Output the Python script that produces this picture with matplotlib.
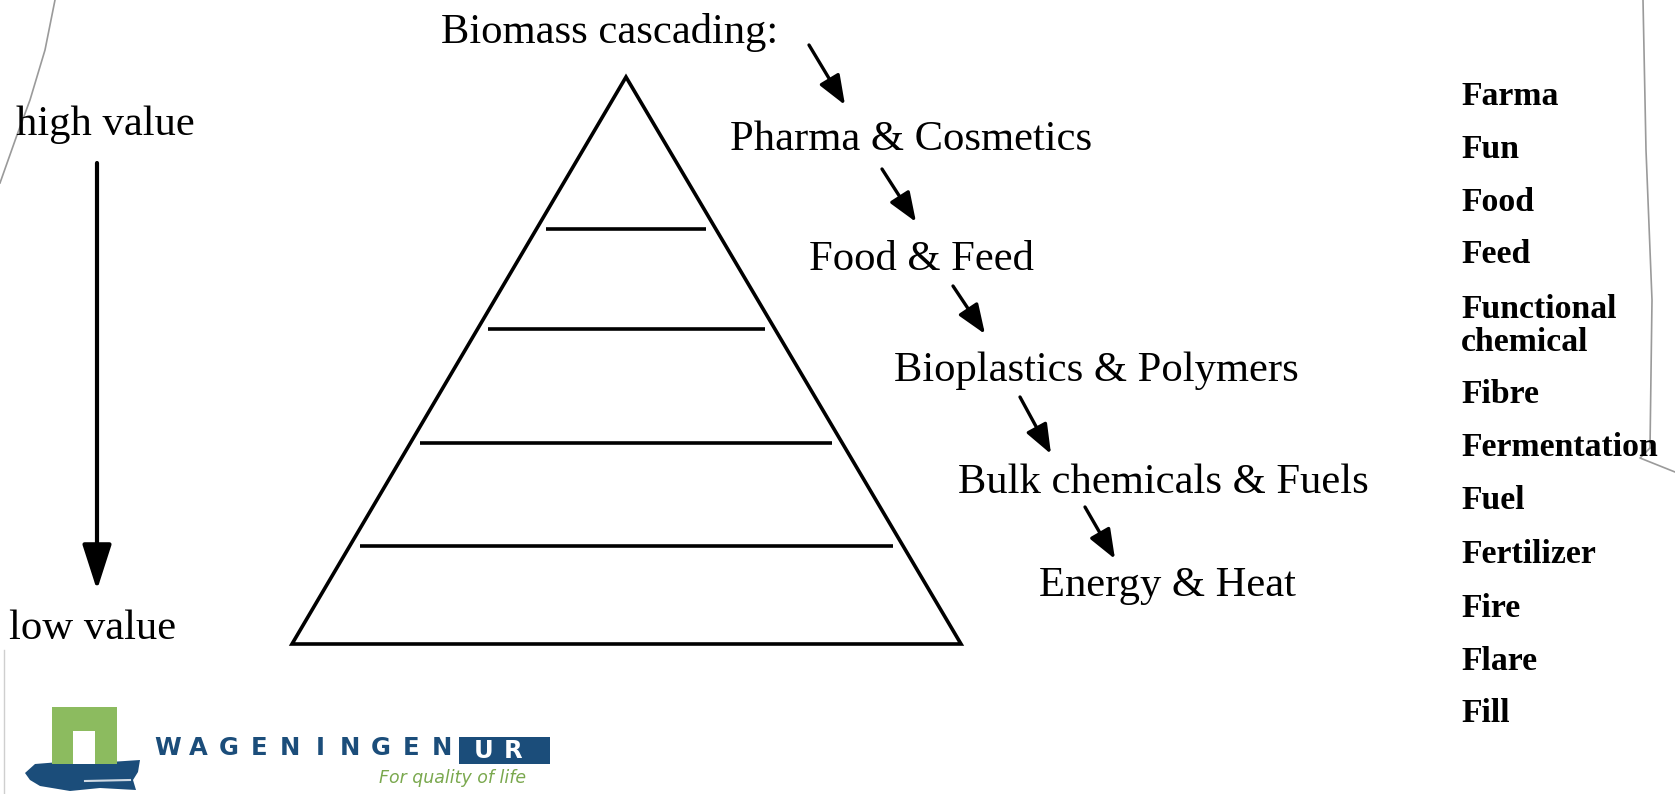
import matplotlib
matplotlib.use("Agg")
import matplotlib.pyplot as plt
from matplotlib.patches import Polygon, Rectangle, FancyArrowPatch

# Cascade steps (top = highest value)
cascade_labels = ["Pharma & Cosmetics", "Food & Feed", "Bioplastics & Polymers",
                  "Bulk chemicals & Fuels", "Energy & Heat"]
cascade_x = [730, 809, 894, 958, 1039]
cascade_base = [150, 270, 381, 493, 596]

# "F" list on the right
f_words = ["Farma", "Fun", "Food", "Feed", "Functional\nchemical", "Fibre",
           "Fermentation", "Fuel", "Fertilizer", "Fire", "Flare", "Fill"]
f_base = [105, 158, 211, 263, 318, 403, 456, 509, 563, 617, 670, 722]

# pyramid tiers (pixel rows of the dividing lines)
tier_y = [229, 329, 443, 546]
apex = (626, 77)
base_l = (292, 644)
base_r = (961, 644)

W, H = 1675, 794
fig = plt.figure(figsize=(W / 100, H / 100), dpi=100)
ax = fig.add_axes([0, 0, 1, 1])
ax.set_xlim(0, W)
ax.set_ylim(H, 0)
ax.axis("off")

serif = "Liberation Serif"

# pyramid
ax.add_patch(Polygon([apex, base_l, base_r], closed=True, fill=False,
                     edgecolor="black", lw=2.6, joinstyle="miter"))
for y in tier_y:
    t = (y - apex[1]) / (base_l[1] - apex[1])
    xl = apex[0] + t * (base_l[0] - apex[0]) + 10
    xr = apex[0] + t * (base_r[0] - apex[0]) - 10
    ax.plot([xl, xr], [y, y], color="black", lw=2.6, solid_capstyle="butt")

# cascade text and arrows
ax.text(441, 43, "Biomass cascading:", fontsize=30.7, family=serif, va="baseline")
for lab, x, y in zip(cascade_labels, cascade_x, cascade_base):
    ax.text(x, y, lab, fontsize=30.7, family=serif, va="baseline")

arrows = [((809, 45), (845, 105)), ((882, 169), (916, 222)),
          ((953, 286), (985, 334)), ((1020, 397), (1051, 454)),
          ((1085, 507), (1115, 559))]
for (x0, y0), (x1, y1) in arrows:
    ax.add_patch(FancyArrowPatch((x0, y0), (x1, y1),
                                 arrowstyle="-|>,head_length=0.9,head_width=0.35",
                                 mutation_scale=20, color="black", lw=2.4,
                                 shrinkA=0, shrinkB=0))

# value axis on the left
ax.text(16, 135, "high value", fontsize=30.7, family=serif, va="baseline")
ax.text(9, 639, "low value", fontsize=30.7, family=serif, va="baseline")
ax.add_patch(FancyArrowPatch((97, 163), (97, 590),
                             arrowstyle="-|>,head_length=1.4,head_width=0.45",
                             mutation_scale=20, color="black", lw=3,
                             shrinkA=0, shrinkB=0))

# F list
for word, y in zip(f_words, f_base):
    for i, line in enumerate(word.split("\n")):
        ax.text(1461, y + i * 33, line, fontsize=24.3, family=serif,
                weight="bold", va="baseline")

# slide border remnants
ax.plot([55, 45, 30, 17, 0], [0, 50, 100, 135, 183], color="#9a9a9a", lw=1.2)
ax.plot([1643, 1646, 1652, 1650], [0, 150, 300, 448], color="#9a9a9a", lw=1.2)
ax.plot([1650, 1640, 1675], [448, 458, 472], color="#9a9a9a", lw=1.2)
ax.plot([4, 4], [650, 794], color="#cfcfcf", lw=1)

# Wageningen UR logo
green = "#8cbb5f"
blue = "#1b4d7a"
ax.add_patch(Polygon([(25, 773), (35, 764), (60, 762), (110, 762), (140, 760),
                      (138, 772), (133, 780), (136, 790), (100, 788), (70, 791),
                      (40, 786), (30, 780)], closed=True, color=blue, lw=0))
ax.plot([85, 130], [781, 780], color="white", lw=1.5, alpha=0.8)
ax.add_patch(Rectangle((52, 707), 65, 57, color=green, lw=0))
ax.add_patch(Rectangle((73, 731), 22, 33, color="white", lw=0))
for i, ch in enumerate("WAGENINGEN"):
    ax.text(168 + i * 30.4, 748, ch, fontsize=17.5, weight="heavy",
            family="DejaVu Sans", color=blue, ha="center", va="center")
ax.add_patch(Rectangle((459, 737), 91, 27, color=blue, lw=0))
ax.text(484, 751, "U", fontsize=17.5, weight="bold", family="DejaVu Sans",
        color="white", ha="center", va="center")
ax.text(513, 751, "R", fontsize=17.5, weight="bold", family="DejaVu Sans",
        color="white", ha="center", va="center")
ax.text(453, 778, "For quality of life", fontsize=12.5, style="italic",
        family="DejaVu Sans", color="#7aa84e", ha="center", va="center")

plt.savefig("out.png", dpi=100)
